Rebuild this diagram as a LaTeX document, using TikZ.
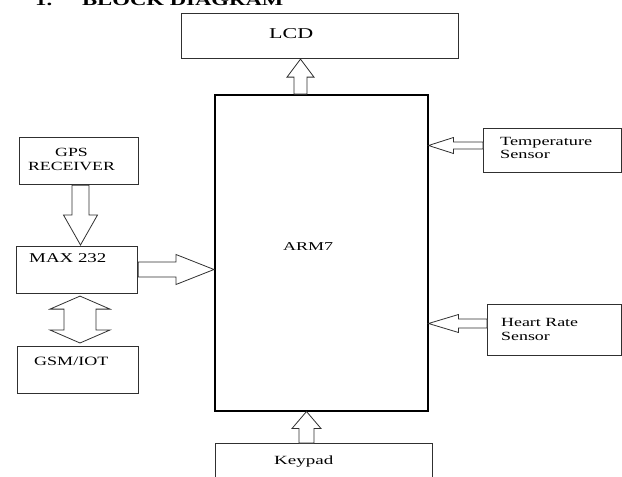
\documentclass[tikz,border=0pt]{standalone}
\usepackage{fontspec}
\setmainfont{Liberation Serif}
\usepackage{graphicx}
\usetikzlibrary{calc}
\newcommand\sx[2][1.45]{\scalebox{#1}[1]{#2}}
\newcommand\twol[3]{\begin{tabular}[t]{@{}#1@{}}#2\\#3\end{tabular}}
\newcommand\barrow[5]{%
 \coordinate (bA) at (#1); \coordinate (bB) at (#2);
 \coordinate (bN) at ($(bB)!#5pt!(bA)$);
 \draw[blockarrow] ($(bA)!#3pt!90:(bB)$) -- ($(bN)!#3pt!-90:(bA)$) -- ($(bN)!#4pt!-90:(bA)$) -- (bB)
   -- ($(bN)!#4pt!90:(bA)$) -- ($(bN)!#3pt!90:(bA)$) -- ($(bA)!#3pt!-90:(bB)$) -- cycle;}
\newcommand\dbarrow[5]{%
 \coordinate (bA) at (#1); \coordinate (bB) at (#2);
 \coordinate (bM) at ($(bA)!#5pt!(bB)$); \coordinate (bN) at ($(bB)!#5pt!(bA)$);
 \draw[blockarrow] (bA) -- ($(bM)!#4pt!90:(bB)$) -- ($(bM)!#3pt!90:(bB)$) -- ($(bN)!#3pt!-90:(bA)$)
   -- ($(bN)!#4pt!-90:(bA)$) -- (bB) -- ($(bN)!#4pt!90:(bA)$) -- ($(bN)!#3pt!90:(bA)$)
   -- ($(bM)!#3pt!-90:(bB)$) -- ($(bM)!#4pt!-90:(bB)$) -- cycle;}
\definecolor{edge}{HTML}{303030}
\begin{document}
\begin{tikzpicture}[x=1pt,y=-1pt,
  box/.style={draw=edge, line width=1.1pt, fill=white, inner sep=0pt, anchor=north west},
  mainbox/.style={draw=black, line width=1.5pt, fill=white, inner sep=0pt, anchor=north west},
  blockarrow/.style={draw=edge, line width=0.8pt, fill=white, line join=miter},
  lbl/.style={inner sep=0pt, text=black}]
\useasboundingbox (0,0) rectangle (622,477);
\clip (0,0) rectangle (622,477);
% title
\node[lbl, anchor=base west, font=\fontsize{16}{19}\bfseries] (title) at (35,5)
  {\sx[1.42]{1.\hspace{21pt}BLOCK DIAGRAM}};
% boxes
\node[box, minimum width=277pt, minimum height=45pt] (lcd) at (181,13) {};
\node[mainbox, minimum width=213pt, minimum height=316pt] (arm) at (214,94) {};
\node[box, minimum width=119pt, minimum height=47pt] (gps) at (19,137) {};
\node[box, minimum width=121pt, minimum height=47pt] (max) at (16,246) {};
\node[box, minimum width=121pt, minimum height=47pt] (gsm) at (17,346) {};
\node[box, minimum width=137.5pt, minimum height=44pt] (temp) at (483,128) {};
\node[box, minimum width=133.5pt, minimum height=51pt] (hr) at (487,304) {};
\node[box, minimum width=217pt, minimum height=60pt] (key) at (215,443) {};
% labels
\node[lbl, anchor=base west, font=\fontsize{15}{18}\selectfont] (tlcd) at (269,38) {\sx[1.47]{LCD}};
\node[lbl, anchor=base west, font=\fontsize{12}{14}\selectfont] (tarm) at (283,250) {\sx[1.5]{ARM7}};
\node[lbl, anchor=base, font=\fontsize{12.5}{13.3}\selectfont] (tgps) at (71.5,156.7) {\sx[1.42]{\twol{c}{GPS}{RECEIVER}}};
\node[lbl, anchor=base west, font=\fontsize{13.5}{15}\selectfont] (tmax) at (29,262) {\sx[1.4]{MAX 232}};
\node[lbl, anchor=base west, font=\fontsize{12.7}{15}\selectfont] (tgsm) at (34,365.7) {\sx[1.42]{GSM/IOT}};
\node[lbl, anchor=base west, font=\fontsize{12.5}{12.8}\selectfont] (ttemp) at (500,145.7) {\sx[1.46]{\twol{l}{Temperature}{Sensor}}};
\node[lbl, anchor=base west, font=\fontsize{12.5}{13.3}\selectfont] (thr) at (501,326.7) {\sx[1.43]{\twol{l}{Heart Rate}{Sensor}}};
\node[lbl, anchor=base west, font=\fontsize{12.5}{15}\selectfont] (tkey) at (274,464.3) {\sx[1.52]{Keypad}};
% connectors
\barrow{arm.north -| 300.5,0}{lcd.south -| 300.5,0}{6.5}{13.5}{18}
\barrow{gps.south -| 80.5,0}{$(max.north -| 80.5,0)+(0,-1)$}{8.5}{17}{30}
\barrow{max.east |- 0,269.5}{arm.west |- 0,269.5}{7.5}{15}{38}
\dbarrow{$(max.south -| 80,0)+(0,2)$}{$(gsm.north -| 80,0)+(0,-3)$}{16}{30}{13}
\barrow{temp.west |- 0,145.5}{arm.east |- 0,145.5}{3.5}{8}{25}
\barrow{hr.west |- 0,323.5}{arm.east |- 0,323.5}{4.5}{9}{30}
\barrow{key.north -| 306.5,0}{arm.south -| 306.5,0}{7.5}{14.5}{17}
\end{tikzpicture}
\end{document}
